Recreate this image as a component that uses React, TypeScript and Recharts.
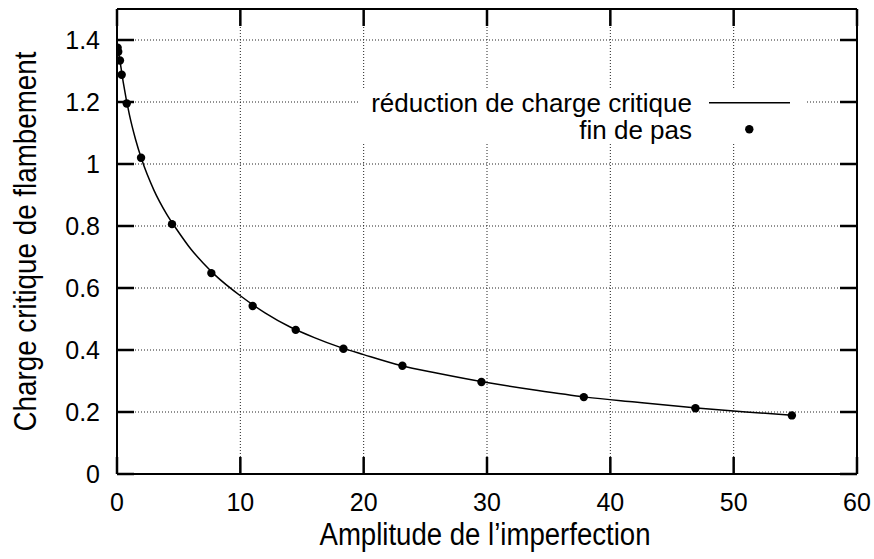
import {
  CartesianGrid,
  ComposedChart,
  Label,
  Line,
  Scatter,
  XAxis,
  YAxis,
} from "recharts";

// continuous curve: reduction of the critical buckling load
const curveX = [0, 0.25, 0.5, 1, 1.5, 2, 3, 4, 5, 6, 7, 8, 10, 12, 14, 16, 18, 20, 23, 26, 30, 34, 38, 42, 47, 51, 55];
const curveY = [1.39, 1.33, 1.265, 1.16, 1.08, 1.015, 0.915, 0.84, 0.78, 0.725, 0.68, 0.64, 0.575, 0.52, 0.475, 0.44, 0.41, 0.385, 0.35, 0.325, 0.295, 0.27, 0.248, 0.232, 0.213, 0.2, 0.189];

// end-of-step points
const stepX = [0.05, 0.1, 0.24, 0.38, 0.79, 1.95, 4.46, 7.65, 11.0, 14.49, 18.36, 23.14, 29.55, 37.85, 46.9, 54.72];
const stepY = [1.375, 1.362, 1.334, 1.288, 1.195, 1.02, 0.806, 0.648, 0.542, 0.465, 0.404, 0.349, 0.297, 0.248, 0.212, 0.189];

const xTicks = [0, 10, 20, 30, 40, 50, 60];
const yTicks = [0, 0.2, 0.4, 0.6, 0.8, 1, 1.2, 1.4];

const curve = curveX.map((x, i) => ({ x, y: curveY[i] }));
const steps = stepX.map((x, i) => ({ x, y: stepY[i] }));

const FONT = "'Liberation Sans', Arial, sans-serif";
const AXIS_LINE = { stroke: "#000", strokeWidth: 2 };
const TICK_LEN = 17;

// gnuplot-style ticks: marks point into the plot, labels sit outside
function BottomTick(props: any) {
  const x = Number(props.x);
  const y = Number(props.y);
  return (
    <g>
      <path d={`M${x},${y}L${x},${y - TICK_LEN}`} stroke="#000" strokeWidth={2.5} fill="none" />
      <text x={x} y={y + 37} textAnchor="middle" fontSize={25} fontFamily={FONT} fill="#000">
        {props.payload.value}
      </text>
    </g>
  );
}

function LeftTick(props: any) {
  const x = Number(props.x);
  const y = Number(props.y);
  return (
    <g>
      <path d={`M${x},${y}L${x + TICK_LEN},${y}`} stroke="#000" strokeWidth={2.5} fill="none" />
      <text x={x - 17} y={y + 9} textAnchor="end" fontSize={25} fontFamily={FONT} fill="#000">
        {props.payload.value}
      </text>
    </g>
  );
}

function TopTick(props: any) {
  const x = Number(props.x);
  const y = Number(props.y);
  return <path d={`M${x},${y}L${x},${y + TICK_LEN}`} stroke="#000" strokeWidth={2.5} fill="none" />;
}

function RightTick(props: any) {
  const x = Number(props.x);
  const y = Number(props.y);
  return <path d={`M${x},${y}L${x - TICK_LEN},${y}`} stroke="#000" strokeWidth={2.5} fill="none" />;
}

function YTitle(props: any) {
  const vb = props.viewBox ?? { x: 0, y: 9, width: 117, height: 465 };
  const cx = 36;
  const cy = vb.y + vb.height / 2;
  return (
    <text
      x={cx}
      y={cy}
      transform={`rotate(-90 ${cx} ${cy})`}
      textAnchor="middle"
      fontSize={31}
      fontFamily={FONT}
      textLength={380}
      lengthAdjust="spacingAndGlyphs"
      fill="#000"
    >
      Charge critique de flambement
    </text>
  );
}

function XTitle(props: any) {
  const vb = props.viewBox ?? { x: 117, y: 474, width: 740, height: 85 };
  return (
    <text
      x={vb.x + vb.width / 2 - 2}
      y={545}
      textAnchor="middle"
      fontSize={31}
      fontFamily={FONT}
      textLength={331}
      lengthAdjust="spacingAndGlyphs"
      fill="#000"
    >
      Amplitude de l’imperfection
    </text>
  );
}

function ChartKey() {
  const textStyle = { fontSize: 26, fontFamily: FONT, fill: "#000" };
  return (
    <g>
      <rect x={358} y={90} width={448} height={54} fill="#fff" />
      <text x={692} y={112} textAnchor="end" {...textStyle}>
        réduction de charge critique
      </text>
      <line x1={709} x2={790} y1={102.7} y2={102.7} stroke="#000" strokeWidth={1.5} />
      <text x={692} y={138.5} textAnchor="end" {...textStyle}>
        fin de pas
      </text>
      <circle cx={749.3} cy={129.3} r={4.2} fill="#000" />
    </g>
  );
}

export default function App() {
  return (
    <div style={{ position: "absolute", left: 0, top: 0, background: "#fff" }}>
      <ComposedChart
        width={874}
        height={559}
        margin={{ top: 8, right: 16, bottom: 0, left: 0 }}
      >
        <CartesianGrid stroke="#222" strokeDasharray="1 2" strokeWidth={1} />
        <XAxis
          type="number"
          dataKey="x"
          domain={[0, 60]}
          ticks={xTicks}
          interval={0}
          allowDataOverflow
          height={85}
          tickSize={0}
          tickMargin={0}
          tick={BottomTick}
          tickLine={false}
          axisLine={AXIS_LINE}
        >
          <Label content={<XTitle />} />
        </XAxis>
        <XAxis
          xAxisId="top"
          orientation="top"
          type="number"
          dataKey="x"
          domain={[0, 60]}
          ticks={xTicks}
          interval={0}
          allowDataOverflow
          height={1}
          tickSize={0}
          tickMargin={0}
          tick={TopTick}
          tickLine={false}
          axisLine={AXIS_LINE}
        />
        <YAxis
          type="number"
          dataKey="y"
          domain={[0, 1.5]}
          ticks={yTicks}
          interval={0}
          allowDataOverflow
          width={117}
          tickSize={0}
          tickMargin={0}
          tick={LeftTick}
          tickLine={false}
          axisLine={AXIS_LINE}
        >
          <Label content={<YTitle />} />
        </YAxis>
        <YAxis
          yAxisId="right"
          orientation="right"
          type="number"
          dataKey="y"
          domain={[0, 1.5]}
          ticks={yTicks}
          interval={0}
          allowDataOverflow
          width={1}
          tickSize={0}
          tickMargin={0}
          tick={RightTick}
          tickLine={false}
          axisLine={AXIS_LINE}
        />
        <ChartKey />
        <Line
          data={curve}
          dataKey="y"
          type="monotone"
          stroke="#000"
          strokeWidth={1.5}
          dot={false}
          activeDot={false}
          isAnimationActive={false}
        />
        <Scatter
          data={steps}
          dataKey="y"
          fill="#000"
          shape={(p: any) => <circle cx={p.cx} cy={p.cy} r={4.2} fill="#000" />}
          isAnimationActive={false}
        />
      </ComposedChart>
    </div>
  );
}
